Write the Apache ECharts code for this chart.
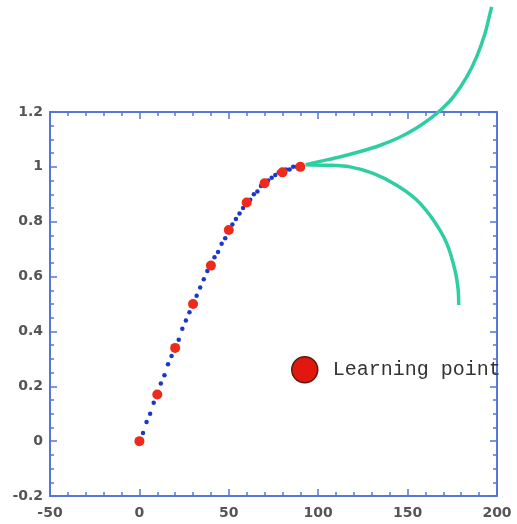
<!DOCTYPE html>
<html>
<head>
<meta charset="utf-8">
<script src="https://cdn.jsdelivr.net/npm/echarts@6/dist/echarts.min.js"></script>
<style>
  html, body { margin: 0; padding: 0; background: #fff; }
  #chart { width: 517px; height: 524px; }
</style>
</head>
<body>
<div id="chart"></div>
<script>
// Axis ranges and ticks
const xRange = [-50, 200];
const yRange = [-0.2, 1.2];
const xStep = 50;
const yStep = 0.2;

// Learning points (red)
const learnX = [0, 10, 20, 30, 40, 50, 60, 70, 80, 90];
const learnY = [0, 0.17, 0.34, 0.50, 0.64, 0.77, 0.87, 0.94, 0.98, 1.00];

// Dense dotted trace (blue)
const traceX = [0, 2, 4, 6, 8, 10, 12, 14, 16, 18, 20, 22, 24, 26, 28, 30, 32, 34, 36, 38, 40,
  42, 44, 46, 48, 50, 52, 54, 56, 58, 60, 62, 64, 66, 68, 70, 72, 74, 76, 78, 80, 82, 84, 86, 88, 90];
const traceY = [0, 0.03, 0.07, 0.10, 0.14, 0.17, 0.21, 0.24, 0.28, 0.31, 0.34, 0.37, 0.41, 0.44, 0.47, 0.50,
  0.53, 0.56, 0.59, 0.62, 0.64, 0.67, 0.69, 0.72, 0.74, 0.77, 0.79, 0.81, 0.83, 0.85, 0.87,
  0.88, 0.90, 0.91, 0.93, 0.94, 0.95, 0.96, 0.97, 0.98, 0.98, 0.99, 0.99, 1.00, 1.00, 1.00];

// Diverging extrapolation branches (green)
const upperX = [93, 101, 112, 123, 134, 145, 155, 163, 169, 175.6, 183.1, 188.6, 193.3, 196.1, 197];
const upperY = [1.008, 1.020, 1.036, 1.055, 1.077, 1.106, 1.142, 1.178, 1.210, 1.255, 1.328, 1.401, 1.486, 1.559, 1.583];
const lowerX = [93, 104.8, 117.8, 130.8, 143.9, 155.1, 164.4, 171.9, 176.5, 178.3, 178.6];
const lowerY = [1.008, 1.006, 1.000, 0.976, 0.933, 0.879, 0.806, 0.721, 0.623, 0.550, 0.496];

const legendName = 'Learning point';

const zip = (xs, ys) => xs.map((x, i) => [x, ys[i]]);

const axisBlue = '#5676d8';
const labelStyle = { color: '#555555', fontSize: 14, fontWeight: 'bold', fontFamily: 'DejaVu Sans' };

function xAxisDef(pos, showLabel) {
  return {
    type: 'value', position: pos, min: xRange[0], max: xRange[1], interval: xStep,
    axisLine: { show: true, onZero: false, lineStyle: { color: axisBlue, width: 2 } },
    axisTick: { show: true, inside: true, length: 7, lineStyle: { color: axisBlue, width: 1.5 } },
    minorTick: { show: true, splitNumber: 5, length: 4, lineStyle: { color: axisBlue, width: 1.5 } },
    splitLine: { show: false },
    axisLabel: Object.assign({ show: showLabel, margin: 10 }, labelStyle)
  };
}
function yAxisDef(pos, showLabel) {
  return {
    type: 'value', position: pos, min: yRange[0], max: yRange[1], interval: yStep,
    axisLine: { show: true, onZero: false, lineStyle: { color: axisBlue, width: 2 } },
    axisTick: { show: true, inside: true, length: 7, lineStyle: { color: axisBlue, width: 1.5 } },
    minorTick: { show: true, splitNumber: 4, length: 4, lineStyle: { color: axisBlue, width: 1.5 } },
    splitLine: { show: false },
    axisLabel: Object.assign({
      show: showLabel, margin: 7,
      formatter: v => String(Math.round(v * 10) / 10)
    }, labelStyle)
  };
}

const chart = echarts.init(document.getElementById('chart'), null, { renderer: 'canvas' });
chart.setOption({
  animation: false,
  backgroundColor: '#ffffff',
  grid: { left: 50, top: 112, right: 20, bottom: 28 },
  xAxis: [xAxisDef('bottom', true), xAxisDef('top', false)],
  yAxis: [yAxisDef('left', true), yAxisDef('right', false)],
  legend: {
    left: 286, top: 351,
    itemWidth: 26, itemHeight: 26,
    icon: 'circle',
    data: [{
      name: legendName,
      itemStyle: { color: '#e0180f', borderColor: '#5a1a10', borderWidth: 1.5, opacity: 1 }
    }],
    textStyle: { fontFamily: 'Liberation Mono', fontSize: 20, color: '#333', padding: [0, 0, 0, 10] }
  },
  series: [
    {
      name: 'upper', type: 'line', data: zip(upperX, upperY), smooth: 0.25,
      showSymbol: false, clip: false,
      lineStyle: { color: '#2fcea2', width: 3.5 }
    },
    {
      name: 'lower', type: 'line', data: zip(lowerX, lowerY), smooth: 0.25,
      showSymbol: false, clip: false,
      lineStyle: { color: '#2fcea2', width: 3.5 }
    },
    {
      name: 'trace', type: 'scatter', data: zip(traceX, traceY),
      symbolSize: 4.5, itemStyle: { color: '#1a38c8', opacity: 1 }
    },
    {
      name: legendName, type: 'scatter', data: zip(learnX, learnY),
      symbolSize: 10, itemStyle: { color: '#ee2a1c', opacity: 1 }, z: 5
    }
  ]
});
</script>
</body>
</html>
